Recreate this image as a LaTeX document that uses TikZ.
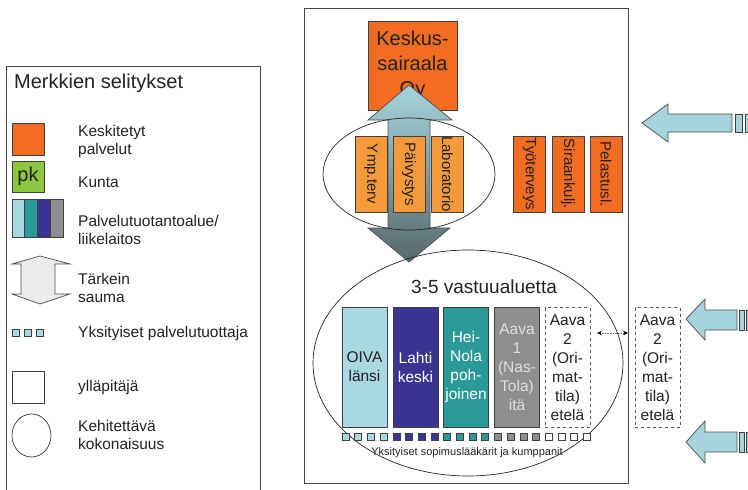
\documentclass[tikz,border=0pt]{standalone}
\usepackage{fontspec}
\setmainfont{Liberation Sans}
\usetikzlibrary{arrows.meta}
\definecolor{orD}{HTML}{F26D21}
\definecolor{orL}{HTML}{F59A3A}
\definecolor{grn}{HTML}{8DC63F}
\definecolor{ltb}{HTML}{A8D8E0}
\definecolor{dkb}{HTML}{3B3492}
\definecolor{tea}{HTML}{2A9A98}
\definecolor{gry}{HTML}{8E8E90}
\definecolor{arw}{HTML}{A6D4DC}
\definecolor{arwmid}{HTML}{8CABB0}
\definecolor{arwbot}{HTML}{56696D}
\definecolor{txt}{HTML}{222222}
\begin{document}
\begin{tikzpicture}[x=1pt,y=-1pt,
  every node/.style={text=txt},
  bx/.style={draw=black!75, line width=0.7pt, inner sep=0pt, anchor=center},
  lgtxt/.style={anchor=west, align=left, inner sep=0pt, font=\fontsize{15.5}{18}\selectfont},
  rotbox/.style={bx, rotate=-90, minimum width=76, minimum height=32, font=\fontsize{15}{18}\selectfont},
  inbox/.style={bx, minimum width=45, minimum height=120, align=center, font=\fontsize{15.5}{19}\selectfont},
  fatarrow/.style={draw=black!70, line width=0.7pt, fill=arw},
  frame/.style={draw=black!72, line width=1.2pt}
]
\useasboundingbox (0,0) rectangle (748,490);
\clip (0,0) rectangle (748,490);

% ---------------- legend ----------------
\node[frame, anchor=north west, minimum width=254, minimum height=440, inner sep=0pt] (legend) at (6,66) {};
\node[anchor=west, inner sep=0pt, font=\fontsize{20}{24}\selectfont] (title) at (14,83) {Merkkien selitykset};

\node[bx, fill=orD, minimum width=32, minimum height=32] (lgor) at (28,139) {};
\node[lgtxt] (lgortx) at (78,141) {Keskitetyt\\palvelut};

\node[bx, fill=grn, minimum width=32, minimum height=31, font=\fontsize{20}{24}\selectfont] (lggr) at (28,176.5) {pk};
\node[lgtxt] (lggrtx) at (78,182) {Kunta};

\foreach \c [count=\i from 0] in {ltb,tea,dkb,gry}
  \node[bx, fill=\c, minimum width=12.75, minimum height=38] (lgs\i) at (18.4+12.75*\i,218) {};
\node[lgtxt] (lgstx) at (78,229.5) {Palvelutuotantoalue/\\liikelaitos};

\path[draw=black!70, line width=0.7pt, fill=black!8]
  (40,256) -- (70,264) -- (55,264) -- (55,294) -- (70,294) -- (40,304)
  -- (12,294) -- (21,294) -- (21,264) -- (12,264) -- cycle;
\node[lgtxt] (lgartx) at (78,287.5) {Tärkein\\sauma};

\foreach \i in {0,1,2}
  \node[bx, fill=ltb, minimum width=7, minimum height=7] (lgq\i) at (15.5+12*\i,333) {};
\node[lgtxt] (lgqtx) at (78,333) {Yksityiset palvelutuottaja};

\node[bx, minimum width=32, minimum height=32] (lgsq) at (28,387) {};
\node[lgtxt] (lgsqtx) at (78,387) {ylläpitäjä};

\draw[black!80, line width=0.7pt] (31.5,435.5) ellipse [x radius=19.5, y radius=21.5];
\node[lgtxt] (lgeltx) at (78,434.5) {Kehitettävä\\kokonaisuus};

% ---------------- main frame ----------------
\node[frame, anchor=north west, minimum width=324, minimum height=475, inner sep=0pt] (main) at (304,8) {};

\node[bx, fill=orD, minimum width=89, minimum height=89, align=center,
      font=\fontsize{20}{25}\selectfont] (ks) at (412.5,65.5) {Keskus-\\sairaala\\Oy};

% big gradient double arrow
\path[draw=black!70, line width=0.7pt, top color=arw, middle color=arwmid, bottom color=arwbot]
  (409,85) -- (452,120) -- (430,120) -- (430,228) -- (450,228) -- (409,262)
  -- (368,228) -- (388,228) -- (388,120) -- (368,120) -- cycle;

% ellipses
\draw[black!85, line width=0.7pt] (409,174) ellipse [x radius=86, y radius=56];
\draw[black!85, line width=0.7pt] (468,363) ellipse [x radius=155, y radius=113];

% upper boxes
\node[rotbox, fill=orL] (ymp) at (371,174) {Ymp.terv};
\node[rotbox, fill=orL] (paiv) at (409,174) {Päivystys};
\node[rotbox, fill=orL] (lab) at (447.5,174) {Laboratorio};
\node[rotbox, fill=orD] (tyo) at (529.5,174) {Työterveys};
\node[rotbox, fill=orD] (sir) at (568,174) {Siraankulj.};
\node[rotbox, fill=orD] (pel) at (606,174) {Pelastusl.};

% lower area
\node[inner sep=0pt, font=\fontsize{19}{22}\selectfont] (vast) at (484,287) {3-5 vastuualuetta};
\node[inbox, fill=ltb] (oiva) at (364.5,367) {OIVA\\länsi};
\node[inbox, fill=dkb, text=white] (lahti) at (415.5,367) {Lahti\\keski};
\node[inbox, fill=tea, text=white] (hei) at (466,367) {Hei-\\Nola\\poh-\\joinen};
\node[inbox, fill=gry, text=black!12] (aava1) at (517,367) {Aava\\1\\(Nas-\\Tola)\\itä};
\node[inbox, draw=black!65, dashed, fill=white] (aava2) at (567.5,367.5) {Aava\\2\\(Ori-\\mat-\\tila)\\etelä};
\node[inbox, draw=black!65, dashed, fill=white] (aava2o) at (657.5,367.5) {Aava\\2\\(Ori-\\mat-\\tila)\\etelä};

\foreach \c [count=\i from 0] in {ltb,ltb,ltb,ltb,dkb,dkb,dkb,dkb,tea,tea,tea,tea,gry,gry,gry,gry,white,white,white,white}
  \node[bx, fill=\c, line width=0.6pt, minimum width=7, minimum height=7] (sq\i) at (345.5+12.7*\i,436.5) {};
\node[inner sep=0pt, font=\fontsize{11}{13}\selectfont] (yks) at (467,453) {Yksityiset sopimuslääkärit ja kumppanit};

\coordinate (da1) at (597,333);
\coordinate (da2) at (628,333);
\draw[black!60, densely dotted, line width=0.6pt,
      {Stealth[length=5pt,width=4.5pt,black]}-{Stealth[length=5pt,width=4.5pt,black]}] (da1) -- (da2);

% right side arrows
\path[fatarrow] (642,123) -- (668,104) -- (668,114) -- (732,114) -- (732,132) -- (668,132) -- (668,142) -- cycle;
\node[bx, fill=arw, anchor=north west, minimum width=7, minimum height=18] (t1a) at (735,114) {};
\node[bx, fill=arw, anchor=north west, minimum width=7, minimum height=18] (t1b) at (745,114) {};

\path[fatarrow] (686,319) -- (705,299) -- (705,310) -- (737,310) -- (737,330) -- (705,330) -- (705,340) -- cycle;
\node[bx, fill=arw, anchor=north west, minimum width=5, minimum height=20] (t2a) at (739,310) {};
\node[bx, fill=arw, anchor=north west, minimum width=6, minimum height=20] (t2b) at (746,310) {};

\path[fatarrow] (686,442) -- (705,421) -- (705,432) -- (737,432) -- (737,452) -- (705,452) -- (705,463) -- cycle;
\node[bx, fill=arw, anchor=north west, minimum width=5, minimum height=20] (t3a) at (739,432) {};
\node[bx, fill=arw, anchor=north west, minimum width=6, minimum height=20] (t3b) at (746,432) {};
\end{tikzpicture}
\end{document}
